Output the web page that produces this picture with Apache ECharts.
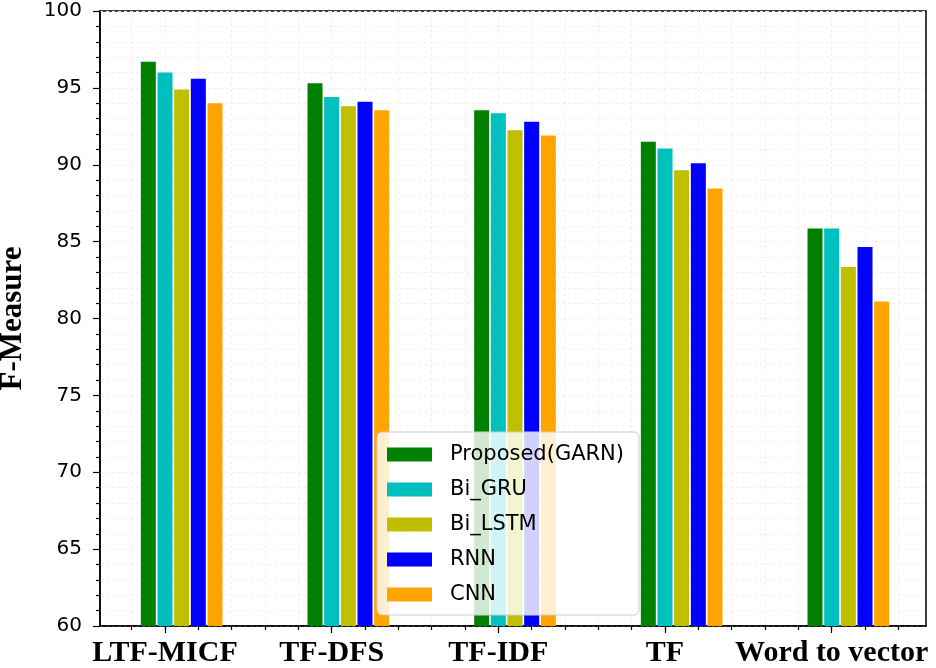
<!DOCTYPE html>
<html><head><meta charset="utf-8">
<script src="https://cdn.jsdelivr.net/npm/echarts@6/dist/echarts.min.js"></script>
<style>html,body{margin:0;padding:0;background:#fff}#c{width:936px;height:668px}</style>
</head><body><div id="c"></div>
<script>
const categories = ['LTF-MICF', 'TF-DFS', 'TF-IDF', 'TF', 'Word to vector'];
const seriesNames = ['Proposed(GARN)', 'Bi_GRU', 'Bi_LSTM', 'RNN', 'CNN'];
const proposed = [96.7, 95.3, 93.55, 91.5, 85.85];
const biGru    = [96.0, 94.4, 93.35, 91.05, 85.85];
const biLstm   = [94.9, 93.8, 92.25, 89.65, 83.35];
const rnn      = [95.6, 94.1, 92.8, 90.1, 84.65];
const cnn      = [94.0, 93.55, 91.9, 88.45, 81.1];
const yMin = 60, yMax = 100, yStep = 5;
const colors = ['#008000', '#00bfbf', '#bfbf00', '#0000ff', '#ffa500'];

// x layout in "bar slot" units
const X_MAX = 49.56, FIRST = 3.9, GROUP = 10;
const seriesOffset = [-1, 0, 1, 2, 3];
const labelPos = categories.map((c, k) => FIRST + GROUP * k);
const minorPos = [];
for (let v = FIRST - 2; v < X_MAX; v += 2) minorPos.push(+v.toFixed(3));

const allSeries = [proposed, biGru, biLstm, rnn, cnn];
const gridLine = { show: true, lineStyle: { color: '#efefef', type: [3, 3], width: 1 } };

const chart = echarts.init(document.getElementById('c'), null, { renderer: 'canvas' });
chart.setOption({
  animation: false,
  backgroundColor: '#fff',
  grid: { left: 100, right: 10, top: 11, bottom: 42, containLabel: false, outerBoundsMode: 'none',
          show: true, borderColor: '#000', borderWidth: 1.5, backgroundColor: 'transparent' },
  legend: {
    orient: 'vertical', left: 377, top: 432,
    data: seriesNames,
    icon: 'rect', itemWidth: 45, itemHeight: 14, itemGap: 14,
    padding: [12, 15, 10, 10],
    backgroundColor: 'rgba(255,255,255,0.82)', borderColor: '#cccccc', borderWidth: 1, borderRadius: 5,
    textStyle: { fontFamily: 'DejaVu Sans', fontSize: 21, color: '#000', padding: [0, 0, 0, 13] }
  },
  xAxis: [
    {
      type: 'value', min: 0, max: X_MAX, position: 'bottom',
      axisLine: { show: true, lineStyle: { color: '#000', width: 1.5 } },
      axisTick: { show: true, customValues: minorPos, length: 4, lineStyle: { color: '#000', width: 1.2 } },
      axisLabel: { show: false, customValues: minorPos },
      splitLine: gridLine
    },
    {
      type: 'value', min: 0, max: X_MAX, position: 'bottom',
      axisLine: { show: false },
      axisTick: { show: true, customValues: labelPos, length: 7, lineStyle: { color: '#000', width: 1.2 } },
      axisLabel: {
        show: true, customValues: labelPos, margin: 12,
        formatter: v => categories[Math.round((v - FIRST) / GROUP)],
        fontFamily: 'Liberation Serif', fontWeight: 'bold', fontSize: 30, color: '#000'
      },
      splitLine: { show: false }
    }
  ],
  yAxis: {
    type: 'value', min: yMin, max: yMax, interval: yStep,
    name: 'F-Measure', nameLocation: 'middle', nameGap: 72, nameRotate: 90,
    nameTextStyle: { fontFamily: 'Liberation Serif', fontWeight: 'bold', fontSize: 31, color: '#000' },
    axisLine: { show: true, lineStyle: { color: '#000', width: 1.5 } },
    axisTick: { show: true, length: 7, lineStyle: { color: '#000', width: 1.2 } },
    minorTick: { show: true, splitNumber: 5, length: 4, lineStyle: { color: '#000', width: 1.2 } },
    axisLabel: { fontFamily: 'DejaVu Sans', fontSize: 20, color: '#000', margin: 18 },
    splitLine: gridLine,
    minorSplitLine: gridLine
  },
  series: allSeries.map((vals, i) => ({
    name: seriesNames[i],
    type: 'bar',
    xAxisIndex: 0,
    barWidth: 15,
    barGap: '-100%',
    itemStyle: { color: colors[i] },
    data: vals.map((v, k) => [FIRST + GROUP * k + seriesOffset[i], v])
  }))
});
</script></body></html>
